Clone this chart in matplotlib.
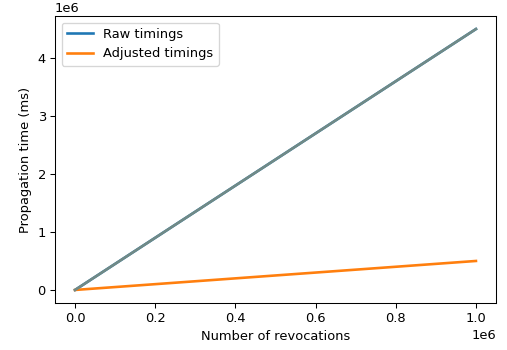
import numpy as np
import matplotlib.pyplot as plt

# ---------- DATA ----------
revocations = np.array([0, 250000, 500000, 750000, 1000000])
raw_ms = np.array([0, 1125000, 2250000, 3375000, 4500000])
adjusted_ms = np.array([0, 125000, 250000, 375000, 500000])

# ---------- PLOT ----------
DPI = 94
fig = plt.figure(figsize=(507 / DPI, 350 / DPI), dpi=DPI)
ax = fig.add_axes([55 / 507, 47 / 350, 441 / 507, 287 / 350])

ax.plot(revocations, raw_ms, color="#1f77b4", lw=2, label="Raw timings")
ax.plot(revocations, adjusted_ms, color="#ff7f0e", lw=2, label="Adjusted timings")
# overlapping re-plots make the raw line show up grey
ax.plot(revocations, raw_ms, color="#718a86", lw=2)

ax.set_xlabel("Number of revocations")
ax.set_ylabel("Propagation time (ms)")
ax.legend(loc="upper left")

plt.savefig("out.png", dpi=DPI)
